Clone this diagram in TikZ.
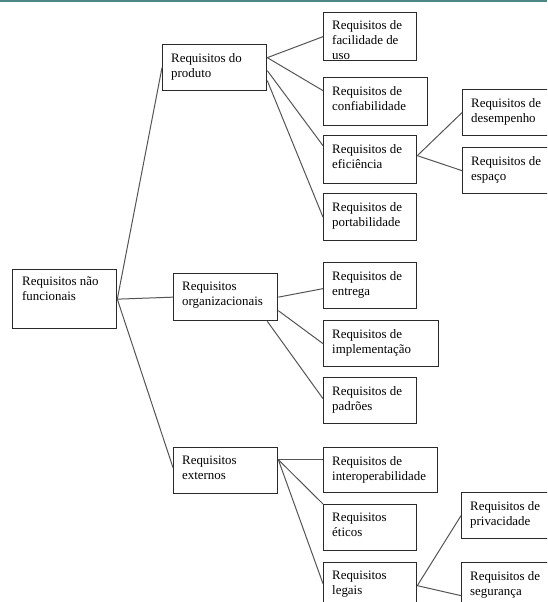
\documentclass[tikz,border=0pt]{standalone}
\usepackage{fontspec}
\setmainfont{Liberation Serif}
\definecolor{band}{HTML}{4F8787}
\definecolor{boxline}{HTML}{2A2A2A}
\definecolor{conline}{HTML}{555555}
\tikzset{
  box/.style={draw=boxline, line width=1.3pt, fill=white, rectangle, inner sep=0pt, anchor=north west},
  txt/.style={anchor=north west, inner sep=0pt, align=left, font=\fontsize{12.9}{15}\selectfont, text=black},
  con/.style={draw=conline, line width=1pt}
}
\begin{document}
\begin{tikzpicture}[x=1pt, y=-1pt]
\clip (0,0) rectangle (547,602);
\fill[white] (0,0) rectangle (547,602);
\fill[band] (0,0) rectangle (547,2.5);

% level 0
\node[box, minimum width=104pt, minimum height=59pt] (root) at (12,269) {};
% level 1
\node[box, minimum width=104pt, minimum height=46pt] (prod) at (162,44) {};
\node[box, minimum width=104pt, minimum height=47pt] (org) at (173,273) {};
\node[box, minimum width=104pt, minimum height=46pt] (ext) at (173,447) {};
% level 2 (produto)
\node[box, minimum width=93pt, minimum height=48pt] (faci) at (323,12) {};
\node[box, minimum width=104pt, minimum height=48pt] (conf) at (323,77) {};
\node[box, minimum width=93pt, minimum height=48pt] (efic) at (323,135) {};
\node[box, minimum width=93pt, minimum height=47pt] (port) at (323,193) {};
% level 3 (eficiencia)
\node[box, minimum width=100pt, minimum height=46pt] (dese) at (462,89) {};
\node[box, minimum width=100pt, minimum height=46pt] (espa) at (462,147) {};
% level 2 (organizacionais)
\node[box, minimum width=93pt, minimum height=46pt] (entr) at (323,262) {};
\node[box, minimum width=115pt, minimum height=46pt] (impl) at (323,320) {};
\node[box, minimum width=93pt, minimum height=46pt] (padr) at (323,377) {};
% level 2 (externos)
\node[box, minimum width=114pt, minimum height=45pt] (inte) at (323,447) {};
\node[box, minimum width=93pt, minimum height=46pt] (etic) at (323,504) {};
\node[box, minimum width=93pt, minimum height=50pt] (lega) at (323,562) {};
% level 3 (legais)
\node[box, minimum width=100pt, minimum height=46pt] (priv) at (461,492) {};
\node[box, minimum width=100pt, minimum height=50pt] (segu) at (461,562) {};

% texts
\node[txt] (troot) at ([xshift=10pt,yshift=-8pt]root.north west) {Requisitos não\\funcionais};
\node[txt] (tprod) at ([xshift=9pt,yshift=-9pt]prod.north west) {Requisitos do\\produto};
\node[txt] (torg) at ([xshift=9pt,yshift=-9pt]org.north west) {Requisitos\\organizacionais};
\node[txt] (text) at ([xshift=9pt,yshift=-9pt]ext.north west) {Requisitos\\externos};
\node[txt] (tfaci) at ([xshift=9pt,yshift=-8pt]faci.north west) {Requisitos de\\facilidade de\\uso};
\node[txt] (tconf) at ([xshift=9pt,yshift=-9pt]conf.north west) {Requisitos de\\confiabilidade};
\node[txt] (tefic) at ([xshift=9pt,yshift=-9pt]efic.north west) {Requisitos de\\eficiência};
\node[txt] (tport) at ([xshift=9pt,yshift=-9pt]port.north west) {Requisitos de\\portabilidade};
\node[txt] (tdese) at ([xshift=9pt,yshift=-9pt]dese.north west) {Requisitos de\\desempenho};
\node[txt] (tespa) at ([xshift=9pt,yshift=-9pt]espa.north west) {Requisitos de\\espaço};
\node[txt] (tentr) at ([xshift=9pt,yshift=-9pt]entr.north west) {Requisitos de\\entrega};
\node[txt] (timpl) at ([xshift=9pt,yshift=-9pt]impl.north west) {Requisitos de\\implementação};
\node[txt] (tpadr) at ([xshift=9pt,yshift=-9pt]padr.north west) {Requisitos de\\padrões};
\node[txt] (tinte) at ([xshift=9pt,yshift=-9pt]inte.north west) {Requisitos de\\interoperabilidade};
\node[txt] (tetic) at ([xshift=9pt,yshift=-9pt]etic.north west) {Requisitos\\éticos};
\node[txt] (tlega) at ([xshift=9pt,yshift=-9pt]lega.north west) {Requisitos\\legais};
\node[txt] (tpriv) at ([xshift=9pt,yshift=-9pt]priv.north west) {Requisitos de\\privacidade};
\node[txt] (tsegu) at ([xshift=9pt,yshift=-9pt]segu.north west) {Requisitos de\\segurança};

% connectors
\draw[con] (root.east) -- (prod.west);
\draw[con] (root.east) -- (org.west);
\draw[con] (root.east) -- ([yshift=3pt]ext.west);

\draw[con] ([yshift=10pt]prod.east) -- (faci.west);
\draw[con] ([yshift=10pt]prod.east) -- ([yshift=11pt]conf.west);
\draw[con] ([yshift=-3pt]prod.east) -- ([yshift=14pt]efic.west);
\draw[con] ([yshift=-13pt]prod.east) -- (port.west);

\draw[con] ([yshift=4pt]efic.east) -- (dese.west);
\draw[con] ([yshift=4pt]efic.east) -- (espa.west);

\draw[con] (org.east) -- ([yshift=-3pt]entr.west);
\draw[con] ([yshift=-13.5pt]org.east) -- (impl.west);
\draw[con] ([xshift=-11pt]org.south east) -- ([yshift=2pt]padr.west);

\draw[con] ([yshift=11pt]ext.east) -- ([yshift=10.5pt]inte.west);
\draw[con] ([yshift=11pt]ext.east) -- (etic.north west);
\draw[con] ([yshift=11pt]ext.east) -- ([yshift=4pt]lega.west);

\draw[con] ([yshift=2pt]lega.east) -- (priv.west);
\draw[con] ([yshift=2pt]lega.east) -- ([yshift=-8pt]segu.west);
\end{tikzpicture}
\end{document}
